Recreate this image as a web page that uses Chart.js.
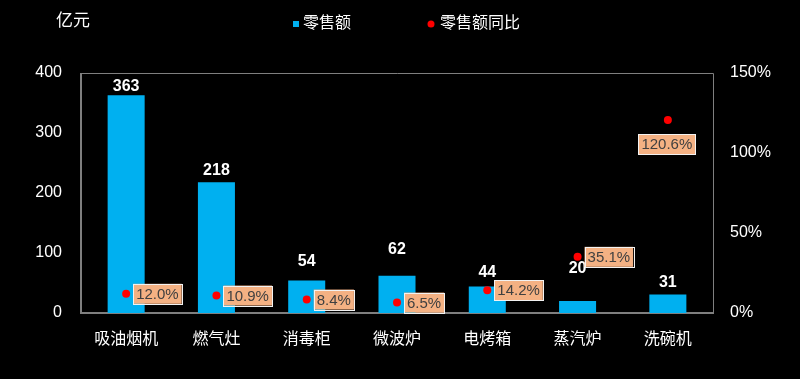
<!DOCTYPE html>
<html>
<head>
<meta charset="utf-8">
<script src="https://cdn.jsdelivr.net/npm/chart.js@4"></script>
<style>
html,body{margin:0;padding:0;background:#000;}
#wrap{width:800px;height:379px;}
</style>
</head>
<body>
<div id="wrap"><canvas id="c" width="800" height="379"></canvas></div>
<script>
const categories = ['吸油烟机','燃气灶','消毒柜','微波炉','电烤箱','蒸汽炉','洗碗机'];
const salesValues = [363, 218, 54, 62, 44, 20, 31];
const yoyValues = [12.0, 10.9, 8.4, 6.5, 14.2, 35.1, 120.6];
const leftTicks = [0, 100, 200, 300, 400];
const rightTicks = [0, 50, 100, 150];
const seriesNames = ['零售额', '零售额同比'];
const unitLabel = '亿元';

const FONT = "'Liberation Sans', Arial, 'Noto Sans CJK SC', sans-serif";

const decorPlugin = {
  id: 'decor',
  beforeDatasetsDraw(chart) {
    const {ctx, chartArea: a} = chart;
    ctx.save();
    ctx.strokeStyle = '#7f7f7f';
    ctx.lineWidth = 1;
    ctx.beginPath();
    ctx.moveTo(a.left, a.top + 0.5);
    ctx.lineTo(a.right + 0.5, a.top + 0.5);
    ctx.lineTo(a.right + 0.5, a.bottom);
    ctx.stroke();
    ctx.lineWidth = 2;
    ctx.beginPath();
    ctx.moveTo(a.left, a.top);
    ctx.lineTo(a.left, a.bottom);
    ctx.lineTo(a.right + 1, a.bottom);
    ctx.stroke();
    ctx.restore();
  },
  afterDatasetsDraw(chart, args, opts) {
    const {ctx} = chart;
    ctx.save();
    // bar value labels
    const barMeta = chart.getDatasetMeta(0);
    ctx.font = 'bold 16px ' + FONT;
    ctx.fillStyle = '#ffffff';
    ctx.textAlign = 'center';
    ctx.textBaseline = 'middle';
    barMeta.data.forEach((el, i) => {
      ctx.fillText(String(salesValues[i]), el.x, el.y - opts.barLift[i]);
    });
    // percentage labels
    const ptMeta = chart.getDatasetMeta(1);
    ctx.font = '15px ' + FONT;
    ptMeta.data.forEach((el, i) => {
      const txt = yoyValues[i].toFixed(1) + '%';
      const tw = ctx.measureText(txt).width;
      const w = tw + 6, h = 20;
      let x0, yc;
      if (opts.pctPlace[i] === 'b') {
        x0 = el.x - w / 2 - 1;
        yc = el.y + 24;
      } else {
        x0 = el.x + 7;
        yc = el.y;
      }
      ctx.fillStyle = '#F4B183';
      ctx.fillRect(x0, yc - h / 2, w, h);
      ctx.strokeStyle = '#f2f2f2';
      ctx.lineWidth = 1;
      ctx.strokeRect(Math.round(x0) + 0.5, Math.round(yc - h / 2) + 0.5, Math.round(w), h);
      ctx.fillStyle = '#404040';
      ctx.textAlign = 'left';
      ctx.fillText(txt, x0 + 3, yc + 1);
    });
    ctx.restore();
  },
  afterDraw(chart) {
    const {ctx} = chart;
    ctx.save();
    ctx.textBaseline = 'middle';
    ctx.textAlign = 'left';
    ctx.fillStyle = '#ffffff';
    ctx.font = '17px ' + FONT;
    ctx.fillText(unitLabel, 56, 21);
    // legend
    ctx.font = '16px ' + FONT;
    ctx.fillStyle = '#00B0F0';
    ctx.fillRect(293, 21, 6, 6);
    ctx.fillStyle = '#ffffff';
    ctx.fillText(seriesNames[0], 303, 24);
    ctx.fillStyle = '#FF0000';
    ctx.beginPath();
    ctx.arc(431, 24, 3.5, 0, Math.PI * 2);
    ctx.fill();
    ctx.fillStyle = '#ffffff';
    ctx.fillText(seriesNames[1], 440, 24);
    ctx.restore();
  }
};

new Chart(document.getElementById('c'), {
  type: 'bar',
  data: {
    labels: categories,
    datasets: [
      {
        type: 'bar',
        label: seriesNames[0],
        data: salesValues,
        backgroundColor: '#00B0F0',
        barPercentage: 0.41,
        categoryPercentage: 1.0,
        yAxisID: 'y',
        order: 2
      },
      {
        type: 'line',
        label: seriesNames[1],
        data: yoyValues,
        showLine: false,
        pointRadius: 4,
        pointHoverRadius: 4,
        pointBackgroundColor: '#FF0000',
        pointBorderWidth: 0,
        borderColor: '#FF0000',
        yAxisID: 'y1',
        order: 1
      }
    ]
  },
  options: {
    responsive: false,
    animation: false,
    events: [],
    layout: { padding: { top: 73, left: 0, right: 0, bottom: 0 } },
    plugins: {
      legend: { display: false },
      tooltip: { enabled: false },
      decor: {
        barLift: [9, 12, 19, 26, 14, 32, 12],
        pctPlace: ['r', 'r', 'r', 'r', 'r', 'r', 'b']
      }
    },
    scales: {
      x: {
        grid: { display: false, drawTicks: false },
        border: { display: false },
        ticks: { color: '#ffffff', font: { size: 16, family: FONT }, padding: 17 },
        afterFit(s) { s.height = 66; }
      },
      y: {
        position: 'left',
        min: 0, max: 400,
        afterBuildTicks(s) { s.ticks = leftTicks.map(v => ({ value: v })); },
        grid: { display: false, drawTicks: false },
        border: { display: false },
        ticks: { color: '#ffffff', font: { size: 16, family: FONT }, padding: 19 },
        afterFit(s) { s.width = 81; }
      },
      y1: {
        position: 'right',
        min: 0, max: 150,
        afterBuildTicks(s) { s.ticks = rightTicks.map(v => ({ value: v })); },
        grid: { display: false, drawTicks: false },
        border: { display: false },
        ticks: { color: '#ffffff', font: { size: 16, family: FONT }, padding: 17, callback: v => v + '%' },
        afterFit(s) { s.width = 87; }
      }
    }
  },
  plugins: [decorPlugin]
});
</script>
</body>
</html>
